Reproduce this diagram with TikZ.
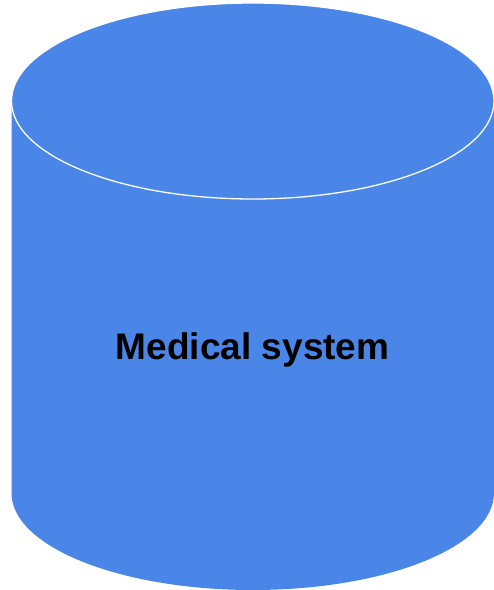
\documentclass[tikz,border=0pt]{standalone}
\usepackage{fontspec}
\setmainfont{Liberation Sans}
\definecolor{cylblue}{HTML}{4A86E8}
\tikzset{cylfill/.style={fill=cylblue},
  rimline/.style={draw=white,line width=1.3pt},
  label/.style={font=\fontsize{37}{41}\selectfont\bfseries,text=black}}
\begin{document}
\begin{tikzpicture}[x=1pt,y=1pt]
\useasboundingbox (0,0) rectangle (494,590);
\coordinate (tl) at (11.5,489);
\coordinate (bl) at (11.5,97);
\fill[cylfill] (tl) -- (bl) arc[start angle=180,end angle=360,x radius=241.25,y radius=97] -- (494,489) -- cycle;
\path[cylfill,rimline] (252.75,489) ellipse[x radius=241.25,y radius=98];
\node[label] (t) at (252.75,240) {Medical system};
\end{tikzpicture}
\end{document}
